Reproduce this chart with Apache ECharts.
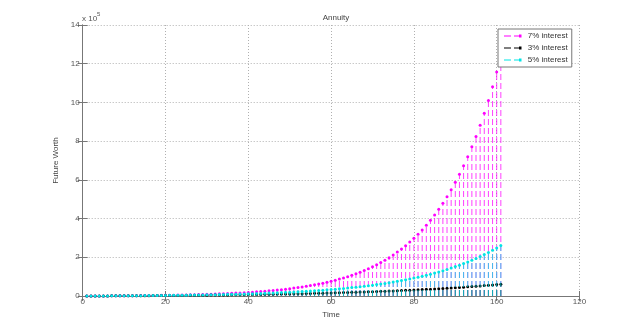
<!DOCTYPE html>
<html>
<head>
<meta charset="utf-8">
<script src="https://cdn.jsdelivr.net/npm/echarts@6/dist/echarts.min.js"></script>
<style>html,body{margin:0;padding:0;background:#fff}#c{width:640px;height:333px}</style>
</head>
<body>
<div id="c"></div>
<script>
// Time (years) for each stem
const time = [1,2,3,4,5,6,7,8,9,10,11,12,13,14,15,16,17,18,19,20,
21,22,23,24,25,26,27,28,29,30,31,32,33,34,35,36,37,38,39,40,
41,42,43,44,45,46,47,48,49,50,51,52,53,54,55,56,57,58,59,60,
61,62,63,64,65,66,67,68,69,70,71,72,73,74,75,76,77,78,79,80,
81,82,83,84,85,86,87,88,89,90,91,92,93,94,95,96,97,98,99,100,101];
// Future worth in units of 10^5
const worth7 = [0,0.001,0.002,0.003,0.004,0.006,0.007,0.009,0.010,0.012,
0.014,0.016,0.018,0.020,0.023,0.025,0.028,0.031,0.034,0.037,
0.041,0.045,0.049,0.053,0.058,0.063,0.069,0.075,0.081,0.087,
0.095,0.102,0.110,0.119,0.128,0.138,0.149,0.160,0.173,0.186,
0.200,0.215,0.231,0.248,0.266,0.286,0.307,0.329,0.353,0.379,
0.407,0.436,0.468,0.501,0.537,0.576,0.617,0.662,0.709,0.759,
0.814,0.872,0.934,1.000,1.071,1.147,1.228,1.315,1.408,1.508,
1.614,1.728,1.850,1.981,2.120,2.270,2.430,2.601,2.784,2.980,
3.189,3.413,3.653,3.910,4.185,4.479,4.793,5.130,5.490,5.875,
6.287,6.728,7.200,7.705,8.246,8.824,9.443,10.105,10.813,11.571,
12.382];
const worth3 = [0,0.001,0.002,0.003,0.004,0.005,0.007,0.008,0.009,0.010,
0.012,0.013,0.014,0.016,0.017,0.019,0.020,0.022,0.023,0.025,
0.027,0.029,0.031,0.032,0.034,0.036,0.039,0.041,0.043,0.045,
0.048,0.050,0.053,0.055,0.058,0.060,0.063,0.066,0.069,0.072,
0.075,0.079,0.082,0.086,0.089,0.093,0.097,0.100,0.104,0.109,
0.113,0.117,0.122,0.126,0.131,0.136,0.141,0.146,0.152,0.157,
0.163,0.169,0.175,0.181,0.188,0.194,0.201,0.208,0.215,0.223,
0.231,0.239,0.247,0.255,0.264,0.273,0.282,0.291,0.301,0.311,
0.321,0.332,0.343,0.354,0.366,0.378,0.390,0.403,0.416,0.429,
0.443,0.458,0.472,0.488,0.503,0.519,0.536,0.553,0.570,0.589,
0.607];
const worth5 = [0,0.001,0.002,0.003,0.004,0.006,0.007,0.008,0.010,0.011,
0.013,0.014,0.016,0.018,0.020,0.022,0.024,0.026,0.028,0.031,
0.033,0.036,0.039,0.041,0.045,0.048,0.051,0.055,0.058,0.062,
0.066,0.071,0.075,0.080,0.085,0.090,0.096,0.102,0.108,0.114,
0.121,0.128,0.135,0.143,0.151,0.160,0.169,0.178,0.188,0.198,
0.209,0.221,0.233,0.246,0.259,0.273,0.287,0.303,0.319,0.336,
0.354,0.372,0.392,0.412,0.434,0.457,0.481,0.506,0.532,0.560,
0.589,0.619,0.651,0.684,0.720,0.757,0.796,0.836,0.879,0.924,
0.971,1.021,1.073,1.127,1.185,1.245,1.308,1.375,1.445,1.518,
1.595,1.675,1.760,1.849,1.943,2.041,2.144,2.252,2.366,2.485,
2.610];
const seriesNames = ['7% interest', '3% interest', '5% interest'];
const xTicks = [0, 20, 40, 60, 80, 100, 120];
const yTicks = [0, 2, 4, 6, 8, 10, 12, 14];

const colors = ['#ff00ff', '#000000', '#00e5e5'];
const FONT = '"Liberation Sans", Arial, sans-serif';

function stemSeries(name, vals, color) {
  return {
    name: name,
    type: 'custom',
    color: color,
    itemStyle: { color: color },
    clip: false,
    data: time.map((t, i) => [t, vals[i]]),
    renderItem: function (params, api) {
      const x = api.value(0), y = api.value(1);
      const p0 = api.coord([x, 0]);
      const p1 = api.coord([x, y]);
      return {
        type: 'group',
        children: [
          { type: 'line', shape: { x1: p0[0], y1: p0[1], x2: p1[0], y2: p1[1] },
            style: { stroke: color, lineWidth: 1, lineDash: [6, 3], opacity: 0.75 } },
          { type: 'circle', shape: { cx: p1[0], cy: p1[1], r: 1.5 },
            style: { fill: color } }
        ]
      };
    }
  };
}

const legendIcon = 'path://M0,1.5H7V2.5H0Z M10,1.5H15V2.5H10Z M15,0.5H17.5V3.5H15Z';

const chart = echarts.init(document.getElementById('c'), null, { renderer: 'canvas' });
const axisLineStyle = { color: '#777', width: 1 };
chart.setOption({
  animation: false,
  backgroundColor: '#fff',
  textStyle: { fontFamily: FONT },
  title: {
    text: 'Annuity', left: 331, top: 9, textAlign: 'center',
    textStyle: { fontSize: 8, fontWeight: 'normal', color: '#444', fontFamily: FONT }
  },
  grid: { left: 82.7, right: 60.5, top: 25, bottom: 37 },
  legend: {
    left: 498, top: 29, orient: 'vertical',
    data: seriesNames.map(n => ({ name: n, icon: legendIcon })),
    itemWidth: 20, itemHeight: 3, itemGap: 2,
    padding: [2, 4, 2, 6],
    borderColor: '#777', borderWidth: 1, backgroundColor: '#fff',
    textStyle: { fontSize: 8, color: '#333', lineHeight: 10, fontFamily: FONT },
    selectedMode: false
  },
  graphic: [{
    type: 'text', left: 82, top: 11,
    style: {
      text: '{a|x 10}{b|5}', fill: '#555', fontFamily: FONT,
      rich: { a: { fontSize: 8, fill: '#555', padding: [4, 0, 0, 0] }, b: { fontSize: 6, fill: '#555', verticalAlign: 'top' } }
    }
  }],
  xAxis: [{
    type: 'value', min: xTicks[0], max: xTicks[xTicks.length - 1], interval: 20,
    name: 'Time', nameLocation: 'middle', nameGap: 14,
    nameTextStyle: { fontSize: 8, color: '#444', fontFamily: FONT },
    axisLine: { show: true, lineStyle: axisLineStyle },
    axisTick: { show: true, inside: true, length: 5, lineStyle: axisLineStyle },
    axisLabel: { fontSize: 8, color: '#555', margin: 2, fontFamily: FONT },
    splitLine: { show: true, lineStyle: { color: '#b0b0b0', type: [1, 2], width: 1 } }
  }, {
    type: 'value', position: 'top', min: 0, max: 120, interval: 20,
    axisLine: { show: true, lineStyle: axisLineStyle },
    axisTick: { show: true, inside: true, length: 5, lineStyle: axisLineStyle },
    axisLabel: { show: false }, splitLine: { show: false }
  }],
  yAxis: [{
    type: 'value', min: yTicks[0], max: yTicks[yTicks.length - 1], interval: 2,
    name: 'Future Worth', nameLocation: 'middle', nameGap: 13,
    nameTextStyle: { fontSize: 8, color: '#444', fontFamily: FONT },
    axisLine: { show: true, lineStyle: axisLineStyle },
    axisTick: { show: true, inside: true, length: 5, lineStyle: axisLineStyle },
    axisLabel: { fontSize: 8, color: '#555', margin: 3, fontFamily: FONT },
    splitLine: { show: true, lineStyle: { color: '#b0b0b0', type: [1, 2], width: 1 } }
  }, {
    type: 'value', position: 'right', min: 0, max: 14, interval: 2,
    axisLine: { show: true, lineStyle: axisLineStyle },
    axisTick: { show: true, inside: true, length: 5, lineStyle: axisLineStyle },
    axisLabel: { show: false }, splitLine: { show: false }
  }],
  series: [
    stemSeries(seriesNames[0], worth7, colors[0]),
    stemSeries(seriesNames[1], worth3, colors[1]),
    stemSeries(seriesNames[2], worth5, colors[2])
  ]
});
</script>
</body>
</html>
